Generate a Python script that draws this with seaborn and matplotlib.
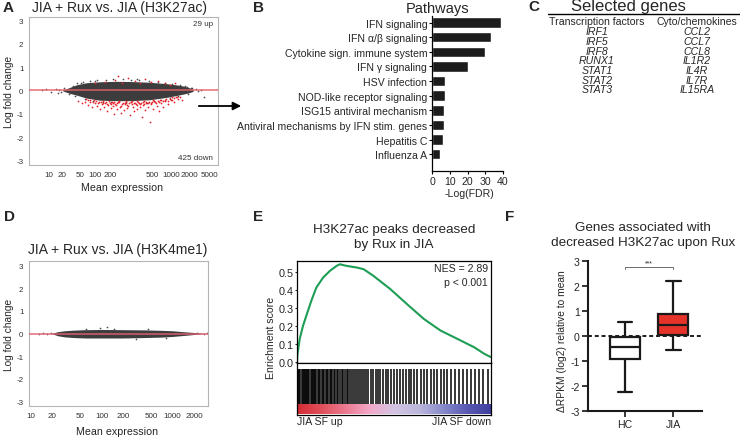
import numpy as np
import pandas as pd
import matplotlib
matplotlib.use("Agg")
import matplotlib.pyplot as plt
import seaborn as sns
from matplotlib.colors import LinearSegmentedColormap

sns.set_theme(style="white")
plt.rcParams['font.family'] = ['Liberation Sans', 'DejaVu Sans']
plt.rcParams['axes.unicode_minus'] = False

W, H = 740, 439

# ---------------- A: MA plot, H3K27ac ----------------
# tick labels of panel A sit unevenly in the source figure; positions
a_tick_pos = [10, 16.6, 33, 60, 107, 560, 1150, 2300, 5000]
a_tick_lab = ['10', '20', '50', '100', '200', '500', '1000', '2000', '5000']
a_cloud_mean = [17, 22, 29, 43, 72, 130, 250, 500, 960, 1400, 1830, 2300, 2700]
a_cloud_up = [0.02, 0.12, 0.24, 0.33, 0.37, 0.39, 0.38, 0.35, 0.29, 0.24, 0.19, 0.12, 0.04]
a_cloud_low = [-0.02, -0.12, -0.2, -0.33, -0.42, -0.44, -0.44, -0.4, -0.3, -0.22, -0.16, -0.1, -0.04]
a_grey_mean = [7.5, 9, 11, 13, 14, 15, 16, 18, 3000, 3300,
               3600, 4100, 2500, 2200, 2000, 60, 80, 300, 450, 35,
               25, 30, 38, 50, 65, 90, 120, 180, 240, 330,
               480, 700, 900, 1200, 1600, 2100, 2600, 22, 28, 40,
               55, 110, 200, 600, 1100, 1500]
a_grey_lfc = [0.0, 0.05, -0.05, 0.08, -0.1, 0.02, -0.06, 0.1, 0.06, -0.04,
              0.02, -0.3, 0.12, -0.15, 0.18, 0.42, -0.5, 0.48, -0.52, 0.3,
              0.2, 0.3, 0.38, 0.42, 0.45, 0.44, 0.47, 0.5, 0.45, 0.44,
              0.4, 0.36, 0.33, 0.28, 0.22, 0.16, 0.1, -0.15, -0.25, -0.38,
              -0.45, -0.5, -0.52, -0.46, -0.32, -0.26]
a_red_down_mean = [31, 36, 40, 45, 49, 53, 60, 64, 70, 72,
                   78, 84, 88, 95, 99, 107, 111, 120, 125, 130,
                   140, 146, 158, 164, 170, 184, 191, 206, 215, 232,
                   241, 260, 270, 292, 304, 328, 343, 370, 385, 416,
                   432, 466, 505, 525, 566, 613, 662, 715, 773, 835,
                   905, 1020, 1140, 1290, 1500, 1750, 45, 58, 80, 115,
                   150, 200, 250, 310, 400, 560, 740, 960, 1200, 1400]
a_red_down_lfc = [-0.45, -0.55, -0.5, -0.62, -0.48, -0.7, -0.55, -0.65, -0.5, -0.8,
                  -0.6, -0.72, -0.52, -0.9, -0.62, -0.55, -0.75, -0.68, -1.0, -0.58,
                  -0.8, -0.5, -0.7, -0.95, -0.6, -0.85, -0.55, -0.75, -0.65, -1.05,
                  -0.5, -0.7, -0.9, -0.6, -0.8, -0.55, -0.72, -1.15, -0.62, -0.85,
                  -0.5, -0.7, -1.35, -0.6, -0.8, -0.48, -0.65, -0.9, -0.55, -0.7,
                  -0.45, -0.6, -0.4, -0.5, -0.35, -0.4, -0.4, -0.42, -0.45, -0.48,
                  -0.46, -0.47, -0.46, -0.45, -0.44, -0.42, -0.4, -0.36, -0.3, -0.28]
a_red_fringe_mean = [42, 50, 55, 62, 68, 75, 82, 90, 97, 103,
                     110, 118, 126, 135, 143, 152, 162, 175, 188, 198,
                     210, 225, 238, 255, 268, 285, 300, 320, 340, 360,
                     380, 405, 430, 460, 490, 520, 555, 590, 630, 680,
                     730, 790, 850, 920, 1000, 1080, 1180, 1300, 1450, 1600]
a_red_fringe_lfc = [-0.38, -0.42, -0.5, -0.45, -0.52, -0.48, -0.56, -0.5, -0.58, -0.47,
                    -0.6, -0.52, -0.5, -0.62, -0.55, -0.5, -0.66, -0.52, -0.58, -0.5,
                    -0.62, -0.54, -0.5, -0.6, -0.56, -0.52, -0.64, -0.5, -0.58, -0.54,
                    -0.5, -0.6, -0.52, -0.56, -0.48, -0.55, -0.5, -0.46, -0.52, -0.45,
                    -0.5, -0.42, -0.46, -0.4, -0.44, -0.36, -0.4, -0.34, -0.3, -0.28]
a_red_up_mean = [60, 88, 130, 170, 215, 282, 343, 416, 525, 700, 905, 1100, 1330, 146]
a_red_up_lfc = [0.3, 0.35, 0.45, 0.32, 0.55, 0.4, 0.3, 0.48, 0.35, 0.42, 0.3, 0.25, 0.3, 0.6]

# ---------------- B: pathways ----------------
pathways = ['IFN signaling', 'IFN α/β signaling', 'Cytokine sign. immune system',
            'IFN γ signaling', 'HSV infection', 'NOD-like receptor signaling',
            'ISG15 antiviral mechanism', 'Antiviral mechanisms by IFN stim. genes',
            'Hepatitis C', 'Influenza A']
neg_log_fdr = [38.7, 33.5, 30.1, 20.1, 7.1, 7.1, 6.7, 6.7, 6.3, 4.7]

# ---------------- C: selected genes ----------------
tf_genes = ['IRF1', 'IRF5', 'IRF8', 'RUNX1', 'STAT1', 'STAT2', 'STAT3']
cyto_genes = ['CCL2', 'CCL7', 'CCL8', 'IL1R2', 'IL4R', 'IL7R', 'IL15RA']

# ---------------- D: MA plot, H3K4me1 ----------------
d_tick_pos = [10, 20, 50, 100, 200, 500, 1000, 2000]
d_tick_lab = ['10', '20', '50', '100', '200', '500', '1000', '2000']
d_cloud_mean = [20, 24, 30, 40, 60, 100, 200, 400, 700, 1000, 1400, 1900, 2600]
d_cloud_up = [0.01, 0.08, 0.12, 0.15, 0.17, 0.18, 0.17, 0.16, 0.14, 0.12, 0.08, 0.05, 0.01]
d_cloud_low = [-0.01, -0.1, -0.15, -0.18, -0.2, -0.2, -0.2, -0.18, -0.16, -0.13, -0.09, -0.05, -0.01]
d_grey_mean = [13, 15, 17, 19, 2200, 2800, 3000, 95, 120, 150, 300, 60, 450, 800]
d_grey_lfc = [0.0, 0.02, -0.02, 0.03, 0.04, -0.03, 0.01, 0.25, 0.28, 0.22, -0.24, 0.21, 0.22, -0.2]

# ---------------- E: GSEA ----------------
es_rank = [0.0, 0.002, 0.014, 0.031, 0.048, 0.074, 0.1, 0.135, 0.17, 0.204, 0.221,
           0.256, 0.308, 0.343, 0.394, 0.481, 0.567, 0.654, 0.74, 0.827, 0.913, 0.965, 1.0]
es_score = [0.0, 0.037, 0.128, 0.2, 0.256, 0.339, 0.412, 0.467, 0.504, 0.531, 0.54,
            0.531, 0.522, 0.513, 0.476, 0.403, 0.32, 0.238, 0.174, 0.128, 0.082, 0.046, 0.027]
es_hits = [0.005, 0.012, 0.018, 0.024, 0.03, 0.036, 0.041, 0.047, 0.052, 0.058,
           0.064, 0.07, 0.075, 0.082, 0.088, 0.094, 0.1, 0.106, 0.113, 0.12,
           0.127, 0.133, 0.14, 0.147, 0.153, 0.16, 0.168, 0.175, 0.182, 0.19,
           0.197, 0.205, 0.213, 0.222, 0.23, 0.238, 0.247, 0.256, 0.265, 0.275,
           0.285, 0.295, 0.305, 0.315, 0.325, 0.335, 0.345, 0.355, 0.368, 0.38,
           0.392, 0.405, 0.418, 0.43, 0.445, 0.458, 0.47, 0.485, 0.5, 0.515,
           0.53, 0.545, 0.56, 0.575, 0.59, 0.605, 0.62, 0.638, 0.655, 0.672,
           0.69, 0.705, 0.722, 0.74, 0.76, 0.775, 0.795, 0.815, 0.835, 0.855,
           0.875, 0.895, 0.915, 0.94, 0.96, 0.985]
rank_colors = ['#d42a35', '#e0505a', '#ec7a92', '#f3a8c8', '#d4c4e4',
               '#bcb8dc', '#8a8ccc', '#5a5ab2', '#4040a0']

# ---------------- F: boxplot ----------------
box_groups = ['HC', 'JIA']
hc_box = [-2.22, -0.9, -0.45, -0.05, 0.55]    # min, q1, median, q3, max
jia_box = [-0.55, 0.05, 0.45, 0.9, 2.22]


def px_rect(x0, y0, x1, y1):
    return [x0 / W, 1 - y1 / H, (x1 - x0) / W, (y1 - y0) / H]


def ftext(fig, x, y, s, **kw):
    fig.text(x / W, 1 - y / H, s, **kw)


def style_ma(ax, tick_pos, tick_lab):
    ax.set_xscale('log')
    ax.set_xticks(tick_pos)
    ax.set_xticklabels(tick_lab)
    ax.minorticks_off()
    ax.set_yticks(range(-3, 4))
    for s in ax.spines.values():
        s.set_color('#b5b5b5')
        s.set_linewidth(0.8)
    ax.tick_params(axis='both', length=2.5, width=0.6, color='#999999',
                   labelsize=5.8, labelcolor='#333333', pad=1.5, direction='out')
    ax.set_xlabel('')
    ax.set_ylabel('')


def ma_panel(fig, rect, cloud, grey, red_sets, xlim, ylim, ticks, line_color):
    ax = fig.add_axes(rect)
    ax.fill_between(cloud[0], cloud[2], cloud[1], color='#3d3d3d', lw=0, zorder=2)
    sns.scatterplot(x=grey[0], y=grey[1], color='#4a4a4a', s=1.5, linewidth=0, ax=ax, zorder=2)
    for rx, ry in red_sets:
        sns.scatterplot(x=rx, y=ry, color='#e8202a', s=1.6, linewidth=0, ax=ax, zorder=3)
    ax.axhline(0, color=line_color, lw=1.2, alpha=0.85, zorder=4)
    style_ma(ax, *ticks)
    ax.set_xlim(*xlim)
    ax.set_ylim(*ylim)
    return ax


def main():
    fig = plt.figure(figsize=(W / 100, H / 100), dpi=100)

    # panel letters
    for letter, (x, y) in zip('ABCDEF', [(3, 8), (253, 8), (528, 7), (4, 217), (253, 217), (505, 217)]):
        ftext(fig, x, y, letter, fontsize=11, fontweight='bold', va='center', ha='left')

    # ---- A
    ma_panel(fig, px_rect(29, 18, 218, 166),
             (a_cloud_mean, a_cloud_up, a_cloud_low), (a_grey_mean, a_grey_lfc),
             [(a_red_down_mean, a_red_down_lfc), (a_red_fringe_mean, a_red_fringe_lfc),
              (a_red_up_mean, a_red_up_lfc)],
             (4.6, 7100), (-3.2, 3.15), (a_tick_pos, a_tick_lab), '#e8606a')
    ftext(fig, 120, 8, 'JIA + Rux vs. JIA (H3K27ac)', fontsize=10, ha='center', va='center')
    ftext(fig, 9, 92, 'Log fold change', fontsize=7.3, rotation=90, ha='center', va='center')
    ftext(fig, 122, 188, 'Mean expression', fontsize=7.7, ha='center', va='center')
    ftext(fig, 213, 24, '29 up', fontsize=5.8, ha='right', va='center', color='#333333')
    ftext(fig, 213, 159, '425 down', fontsize=5.8, ha='right', va='center', color='#333333')
    fig.add_artist(matplotlib.patches.FancyArrowPatch(
        (196 / W, 1 - 107 / H), (244 / W, 1 - 107 / H), transform=fig.transFigure,
        arrowstyle='-|>', mutation_scale=12, lw=1.3, color='black'))

    # ---- B
    axb = fig.add_axes(px_rect(432, 17, 503, 172))
    sns.barplot(x=neg_log_fdr, y=pathways, color='#1c1c1c', saturation=1, width=0.72, ax=axb)
    axb.set_xlim(0, 40)
    axb.set_ylim(10.15, -0.45)
    axb.set_xticks([0, 10, 20, 30, 40])
    sns.despine(ax=axb)
    for s in ['left', 'bottom']:
        axb.spines[s].set_color('black')
        axb.spines[s].set_linewidth(0.9)
    axb.tick_params(axis='both', length=2.5, width=0.8, color='black', direction='out',
                    labelsize=7.6, pad=1, left=True, bottom=True)
    axb.set_xlabel('')
    ftext(fig, 438, 9, 'Pathways', fontsize=10.5, ha='center', va='center')
    ftext(fig, 469, 194, '-Log(FDR)', fontsize=7.6, ha='center', va='center')

    # ---- C
    ftext(fig, 628, 7, 'Selected genes', fontsize=12, ha='center', va='center')
    fig.add_artist(matplotlib.lines.Line2D([548 / W, 740 / W], [1 - 14.5 / H, 1 - 14.5 / H],
                                           color='black', lw=1.0))
    ftext(fig, 597, 22, 'Transcription factors', fontsize=7.6, ha='center', va='center')
    ftext(fig, 697, 22, 'Cyto/chemokines', fontsize=7.6, ha='center', va='center')
    for i, (g1, g2) in enumerate(zip(tf_genes, cyto_genes)):
        y = 32.3 + i * 9.7
        ftext(fig, 597, y, g1, fontsize=7.6, style='italic', ha='center', va='center')
        ftext(fig, 697, y, g2, fontsize=7.6, style='italic', ha='center', va='center')

    # ---- D
    ma_panel(fig, px_rect(29, 262, 208, 407),
             (d_cloud_mean, d_cloud_up, d_cloud_low), (d_grey_mean, d_grey_lfc), [],
             (9.46, 3140), (-3.22, 3.22), (d_tick_pos, d_tick_lab), '#e06070')
    ftext(fig, 118, 250, 'JIA + Rux vs. JIA (H3K4me1)', fontsize=10, ha='center', va='center')
    ftext(fig, 9, 335, 'Log fold change', fontsize=7.3, rotation=90, ha='center', va='center')
    ftext(fig, 117, 432, 'Mean expression', fontsize=7.7, ha='center', va='center')

    # ---- E
    axe = fig.add_axes(px_rect(297, 262, 491, 364))
    sns.lineplot(x=es_rank, y=es_score, color='#1e9e55', lw=1.5, ax=axe)
    axe.set_xlim(0, 1)
    axe.set_ylim(-0.005, 0.558)
    axe.set_xticks([])
    axe.set_yticks([0.0, 0.1, 0.2, 0.3, 0.4, 0.5])
    axe.set_yticklabels(['0.0', '0.1', '0.2', '0.3', '0.4', '0.5'])
    for s in axe.spines.values():
        s.set_color('black')
        s.set_linewidth(0.9)
    axe.tick_params(axis='y', length=1.5, width=0.8, direction='out', labelsize=7.8, pad=1, left=True)
    axe.text(0.985, 0.93, 'NES = 2.89', transform=axe.transAxes, ha='right', va='center', fontsize=7.6)
    axe.text(0.985, 0.79, 'p < 0.001', transform=axe.transAxes, ha='right', va='center', fontsize=7.6)

    axr = fig.add_axes(px_rect(297, 364, 491, 416))
    axr.vlines(es_hits, 0.21, 0.885, color='black', lw=1.1)
    cmap = LinearSegmentedColormap.from_list('rank', rank_colors)
    axr.imshow(np.linspace(0, 1, 256)[None, :], aspect='auto', cmap=cmap,
               extent=(0, 1, 0.02, 0.21))
    axr.set_xlim(0, 1)
    axr.set_ylim(0, 1)
    axr.set_xticks([])
    axr.set_yticks([])
    for s in axr.spines.values():
        s.set_color('black')
        s.set_linewidth(0.9)
    ftext(fig, 394, 230, 'H3K27ac peaks decreased', fontsize=9.7, ha='center', va='center')
    ftext(fig, 394, 245, 'by Rux in JIA', fontsize=9.7, ha='center', va='center')
    ftext(fig, 271, 338, 'Enrichment score', fontsize=7.6, rotation=90, ha='center', va='center')
    ftext(fig, 297, 422, 'JIA SF up', fontsize=7.6, ha='left', va='center')
    ftext(fig, 491, 422, 'JIA SF down', fontsize=7.6, ha='right', va='center')

    # ---- F
    axf = fig.add_axes(px_rect(588, 262, 702, 412))
    df = pd.DataFrame({'group': ['HC'] * 5 + ['JIA'] * 5, 'value': hc_box + jia_box})
    sns.boxplot(data=df, x='group', y='value', hue='group', order=box_groups,
                palette={'HC': 'white', 'JIA': '#e6332a'}, whis=(0, 100), width=0.62,
                saturation=1, linecolor='#1a1a1a', linewidth=1.6, legend=False, ax=axf)
    axf.set_xlim(-0.77, 1.6)
    axf.set_ylim(-3, 3)
    axf.set_yticks(range(-3, 4))
    axf.axhline(0, ls=(0, (2, 1.5)), color='#1a1a1a', lw=1.4, zorder=0)
    axf.plot([0, 0, 1, 1], [2.68, 2.77, 2.77, 2.68], color='#555555', lw=0.6)
    axf.text(0.5, 2.8, '***', ha='center', va='bottom', fontsize=5)
    sns.despine(ax=axf)
    for s in ['left', 'bottom']:
        axf.spines[s].set_color('#1a1a1a')
        axf.spines[s].set_linewidth(1.5)
    axf.tick_params(axis='both', length=4, width=1.3, direction='out', labelsize=7.6, pad=2,
                    left=True, bottom=True)
    axf.set_xlabel('')
    axf.set_ylabel('')
    ftext(fig, 643, 228, 'Genes associated with', fontsize=9.7, ha='center', va='center')
    ftext(fig, 643, 243, 'decreased H3K27ac upon Rux', fontsize=9.7, ha='center', va='center')
    ftext(fig, 562, 341, 'ΔRPKM (log2) relative to mean', fontsize=7.4, rotation=90,
          ha='center', va='center')

    fig.savefig('out.png', dpi=100)


if __name__ == '__main__':
    main()
